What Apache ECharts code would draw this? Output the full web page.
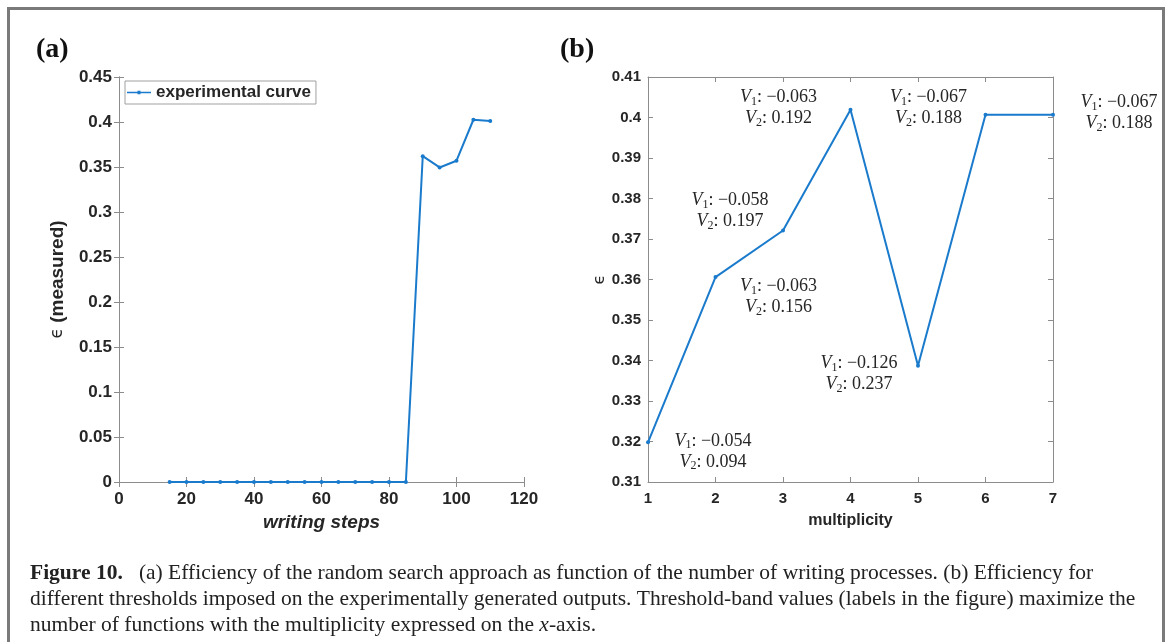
<!DOCTYPE html>
<html>
<head>
<meta charset="utf-8">
<script src="https://cdn.jsdelivr.net/npm/echarts@6/dist/echarts.min.js"></script>
<style>
  html, body { margin: 0; padding: 0; background: #fff; }
  #main { width: 1170px; height: 642px; }
</style>
</head>
<body>
<div id="main"></div>
<script>
// panel (a): efficiency vs writing steps
const writingSteps = [15, 20, 25, 30, 35, 40, 45, 50, 55, 60, 65, 70, 75, 80, 85, 90, 95, 100, 105, 110];
const effMeasured = [0, 0, 0, 0, 0, 0, 0, 0, 0, 0, 0, 0, 0, 0, 0, 0.362, 0.3495, 0.357, 0.4025, 0.401];

// panel (b): efficiency vs multiplicity, with threshold labels
const multiplicity = [1, 2, 3, 4, 5, 6, 7];
const effMult = [0.3198, 0.3606, 0.3721, 0.4019, 0.3387, 0.4007, 0.4007];
const v1Values = ['\u22120.054', '\u22120.063', '\u22120.058', '\u22120.063', '\u22120.126', '\u22120.067', '\u22120.067'];
const v2Values = ['0.094', '0.156', '0.197', '0.192', '0.237', '0.188', '0.188'];

// where each label sits relative to its point (px)
const labelOffsets = [[65, 9], [63, 20], [-53, -20], [-72, -2], [-59, 8], [-57, -7], [66, -2]];

const BLUE = '#1a7acc';
const AXIS = '#8c8c8c';
const TXT = '#262626';

const chart = echarts.init(document.getElementById('main'));

function numFmt(v) {
  return String(parseFloat(v.toFixed(2)));
}

function boxAxis(gridIndex, pos, min, max, interval) {
  return {
    type: 'value', gridIndex: gridIndex, position: pos,
    min: min, max: max, interval: interval,
    axisLine: { show: true, lineStyle: { color: AXIS, width: 1 } },
    axisTick: { show: true, inside: true, length: 5, lineStyle: { color: AXIS } },
    axisLabel: { show: false },
    splitLine: { show: false }
  };
}

const sans = 'Liberation Sans, Arial, sans-serif';
const serif = 'Liberation Serif, Times New Roman, serif';
const tickFont = { color: TXT, fontWeight: 'bold', fontFamily: sans };
const capSize = 21.5;

chart.setOption({
  animation: false,
  backgroundColor: '#fff',
  grid: [
    { left: 119, top: 77, width: 405, height: 405 },
    { left: 648, top: 77, width: 405, height: 405 }
  ],
  legend: {
    data: ['experimental curve'],
    left: 125, top: 81,
    borderColor: '#a0a0a0', borderWidth: 1,
    padding: [3, 5, 3, 2],
    itemWidth: 24, itemHeight: 4, itemGap: 2,
    icon: 'path://M0,1.3L24,1.3L24,2.7L0,2.7Z M10.5,0.2L13.5,0.2L13.5,3.8L10.5,3.8Z',
    backgroundColor: '#fff',
    textStyle: { color: TXT, fontSize: 17, lineHeight: 17, fontWeight: 'bold', fontFamily: sans }
  },
  xAxis: [
    {
      type: 'value', gridIndex: 0, min: 0, max: 120, interval: 20,
      axisLine: { show: true, lineStyle: { color: AXIS } },
      axisTick: { show: true, inside: true, length: 5, lineStyle: { color: AXIS } },
      axisLabel: Object.assign({ fontSize: 17, margin: 9 }, tickFont),
      splitLine: { show: false },
      name: 'writing steps', nameLocation: 'middle', nameGap: 30,
      nameTextStyle: { color: TXT, fontSize: 19, fontWeight: 'bold', fontStyle: 'italic', fontFamily: sans }
    },
    boxAxis(0, 'top', 0, 120, 20),
    {
      type: 'value', gridIndex: 1, min: 1, max: 7, interval: 1,
      axisLine: { show: true, lineStyle: { color: AXIS } },
      axisTick: { show: true, inside: true, length: 5, lineStyle: { color: AXIS } },
      axisLabel: Object.assign({ fontSize: 15, margin: 9 }, tickFont),
      splitLine: { show: false },
      name: 'multiplicity', nameLocation: 'middle', nameGap: 31,
      nameTextStyle: { color: TXT, fontSize: 16, fontWeight: 'bold', fontFamily: sans }
    },
    boxAxis(1, 'top', 1, 7, 1)
  ],
  yAxis: [
    {
      type: 'value', gridIndex: 0, min: 0, max: 0.45, interval: 0.05,
      axisLine: { show: true, lineStyle: { color: AXIS } },
      axisTick: { show: true, inside: true, length: 5, lineStyle: { color: AXIS } },
      axisLabel: Object.assign({ fontSize: 17, margin: 7, formatter: numFmt }, tickFont),
      splitLine: { show: false },
      name: '{e|\u03f5} (measured)', nameLocation: 'middle', nameGap: 52, nameRotate: 90,
      nameTextStyle: {
        color: TXT, fontSize: 19, fontWeight: 'bold', fontFamily: sans,
        rich: { e: { fontSize: 17, fontWeight: 'normal', color: TXT, fontFamily: 'DejaVu Sans, sans-serif' } }
      }
    },
    boxAxis(0, 'right', 0, 0.45, 0.05),
    {
      type: 'value', gridIndex: 1, min: 0.31, max: 0.41, interval: 0.01,
      axisLine: { show: true, lineStyle: { color: AXIS } },
      axisTick: { show: true, inside: true, length: 5, lineStyle: { color: AXIS } },
      axisLabel: Object.assign({ fontSize: 15, margin: 7, formatter: numFmt }, tickFont),
      splitLine: { show: false },
      name: '\u03f5', nameLocation: 'middle', nameGap: 40, nameRotate: 90,
      nameTextStyle: { color: TXT, fontSize: 16, fontFamily: 'DejaVu Sans, sans-serif' }
    },
    boxAxis(1, 'right', 0.31, 0.41, 0.01)
  ],
  series: [
    {
      name: 'experimental curve', type: 'line',
      xAxisIndex: 0, yAxisIndex: 0,
      data: writingSteps.map(function (x, i) { return [x, effMeasured[i]]; }),
      symbol: 'circle', symbolSize: 4, showSymbol: true,
      itemStyle: { color: BLUE },
      lineStyle: { color: BLUE, width: 2 }
    },
    {
      name: 'thresholds', type: 'line',
      xAxisIndex: 2, yAxisIndex: 2,
      data: multiplicity.map(function (m, i) {
        return {
          value: [m, effMult[i]],
          label: { offset: labelOffsets[i] }
        };
      }),
      symbol: 'circle', symbolSize: 4, showSymbol: true,
      itemStyle: { color: BLUE },
      lineStyle: { color: BLUE, width: 2 },
      label: {
        show: true, position: 'inside', align: 'center', verticalAlign: 'middle',
        formatter: function (p) {
          return '{v|V}{s|1}{t|: ' + v1Values[p.dataIndex] + '}\n{v|V}{s|2}{t|: ' + v2Values[p.dataIndex] + '}';
        },
        rich: {
          v: { fontFamily: serif, fontStyle: 'italic', fontSize: 18, color: TXT, lineHeight: 21 },
          s: { fontFamily: serif, fontSize: 12, color: TXT, verticalAlign: 'bottom', lineHeight: 13 },
          t: { fontFamily: serif, fontSize: 18, color: TXT, lineHeight: 21 }
        }
      }
    }
  ],
  graphic: [
    {
      type: 'rect', silent: true,
      shape: { x: 8.5, y: 8.5, width: 1155, height: 700 },
      style: { fill: 'none', stroke: '#7a7a7a', lineWidth: 3 }
    },
    {
      type: 'text', left: 36, top: 36,
      style: { text: '(a)', font: 'bold 28px ' + serif, fill: '#111' }
    },
    {
      type: 'text', left: 560, top: 36,
      style: { text: '(b)', font: 'bold 28px ' + serif, fill: '#111' }
    },
    {
      type: 'text', left: 30, top: 562,
      style: {
        text: '{b|Figure 10.}   (a) Efficiency of the random search approach as function of the number of writing processes. (b) Efficiency for',
        font: capSize + 'px ' + serif, fill: '#222',
        rich: { b: { fontWeight: 'bold', fontSize: capSize, fontFamily: serif, fill: '#222' } }
      }
    },
    {
      type: 'text', left: 30, top: 588,
      style: {
        text: 'different thresholds imposed on the experimentally generated outputs. Threshold-band values (labels in the figure) maximize the',
        font: capSize + 'px ' + serif, fill: '#222'
      }
    },
    {
      type: 'text', left: 30, top: 614,
      style: {
        text: 'number of functions with the multiplicity expressed on the {i|x}-axis.',
        font: capSize + 'px ' + serif, fill: '#222',
        rich: { i: { fontStyle: 'italic', fontSize: capSize, fontFamily: serif, fill: '#222' } }
      }
    }
  ]
});
</script>
</body>
</html>
